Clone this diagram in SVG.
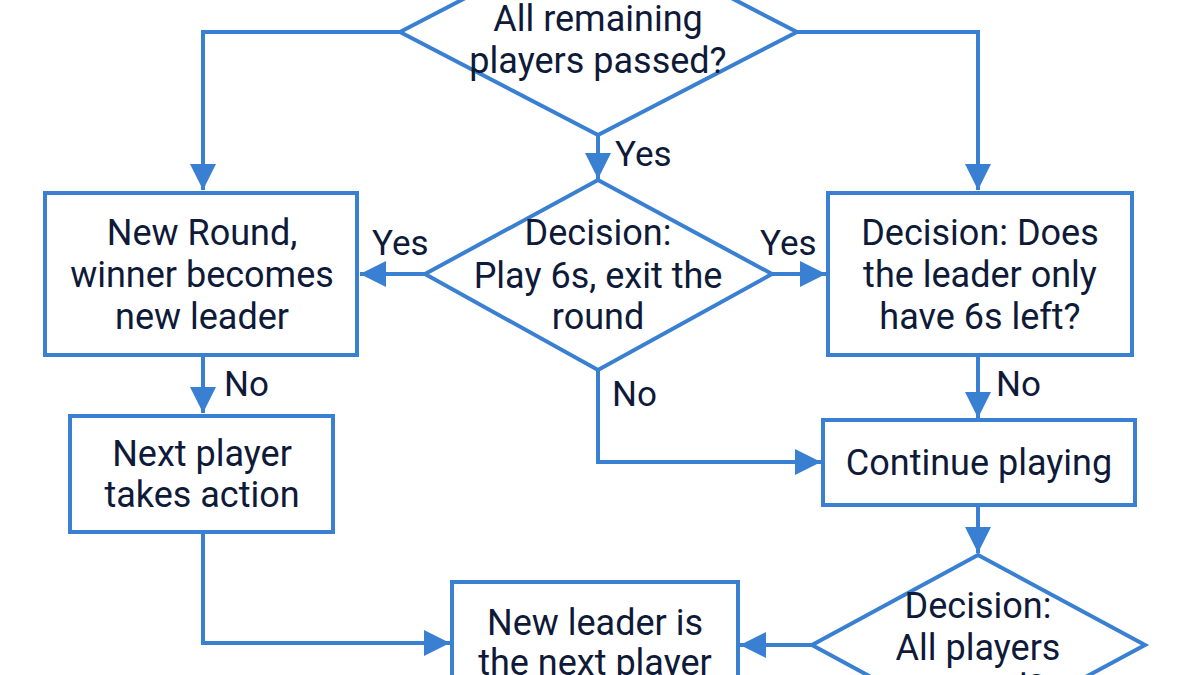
<svg xmlns="http://www.w3.org/2000/svg" width="1200" height="675" viewBox="0 0 1200 675">
<defs>
<marker id="arr" viewBox="0 0 10 10" refX="10" refY="5" markerWidth="26" markerHeight="26" markerUnits="userSpaceOnUse" orient="auto">
<path d="M0,0 L10,5 L0,10 Z" fill="#3a80d2"/>
</marker>
</defs>
<style>
.n{fill:#ffffff;stroke:#3a80d2;stroke-width:4}
.c{fill:none;stroke:#3a80d2;stroke-width:4}
.t{font-family:Roboto,"Liberation Sans",sans-serif;font-size:36px;fill:#0e1a38;text-anchor:middle}
.l{font-family:Roboto,"Liberation Sans",sans-serif;font-size:35px;fill:#0e1a38}
</style>
<rect width="1200" height="675" fill="#ffffff"/>
<g id="connectors">
<path class="c" d="M400,32 L203,32 L203,190" marker-end="url(#arr)"/>
<path class="c" d="M797,32 L978,32 L978,190" marker-end="url(#arr)"/>
<path class="c" d="M598,135 L598,179" marker-end="url(#arr)"/>
<path class="c" d="M425,274 L360,274" marker-end="url(#arr)"/>
<path class="c" d="M772,274 L826,274" marker-end="url(#arr)"/>
<path class="c" d="M598,370 L598,462 L821,462" marker-end="url(#arr)"/>
<path class="c" d="M203,355 L203,413" marker-end="url(#arr)"/>
<path class="c" d="M978,355 L978,418" marker-end="url(#arr)"/>
<path class="c" d="M978,505 L978,553" marker-end="url(#arr)"/>
<path class="c" d="M203,532 L203,643 L450,643" marker-end="url(#arr)"/>
<path class="c" d="M812,645 L740,645" marker-end="url(#arr)"/>
<text class="l" x="615" y="166">Yes</text>
<text class="l" x="372" y="255">Yes</text>
<text class="l" x="760" y="255">Yes</text>
<text class="l" x="612" y="406">No</text>
<text class="l" x="224" y="396">No</text>
<text class="l" x="996" y="396">No</text>
</g>
<g id="d_top">
<polygon class="n" points="598,-71 797,32 598,135 400,32"/>
<text class="t" x="598" y="31">All remaining</text>
<text class="t" x="598" y="73">players passed?</text>
</g>
<g id="d_mid">
<polygon class="n" points="598,180 772,274 598,370 425,274"/>
<text class="t" x="598" y="245">Decision:</text>
<text class="t" x="598" y="288">Play 6s, exit the</text>
<text class="t" x="598" y="329">round</text>
</g>
<g id="b_newround">
<rect class="n" x="45" y="193" width="312" height="162"/>
<text class="t" x="202" y="245">New Round,</text>
<text class="t" x="202" y="287">winner becomes</text>
<text class="t" x="202" y="329">new leader</text>
</g>
<g id="b_next">
<rect class="n" x="70" y="416" width="263" height="116"/>
<text class="t" x="202" y="466">Next player</text>
<text class="t" x="202" y="507">takes action</text>
</g>
<g id="b_only6">
<rect class="n" x="828" y="193" width="304" height="162"/>
<text class="t" x="980" y="245">Decision: Does</text>
<text class="t" x="980" y="287">the leader only</text>
<text class="t" x="980" y="329">have 6s left?</text>
</g>
<g id="b_continue">
<rect class="n" x="823" y="420" width="312" height="85"/>
<text class="t" x="979" y="475">Continue playing</text>
</g>
<g id="d_all">
<polygon class="n" points="978,555 1145,645 978,735 812,645"/>
<text class="t" x="978" y="618">Decision:</text>
<text class="t" x="978" y="660">All players</text>
<text class="t" x="978" y="700">passed?</text>
</g>
<g id="b_newleader">
<rect class="n" x="452" y="582" width="286" height="130"/>
<text class="t" x="595" y="635">New leader is</text>
<text class="t" x="595" y="675">the next player</text>
</g>
</svg>
